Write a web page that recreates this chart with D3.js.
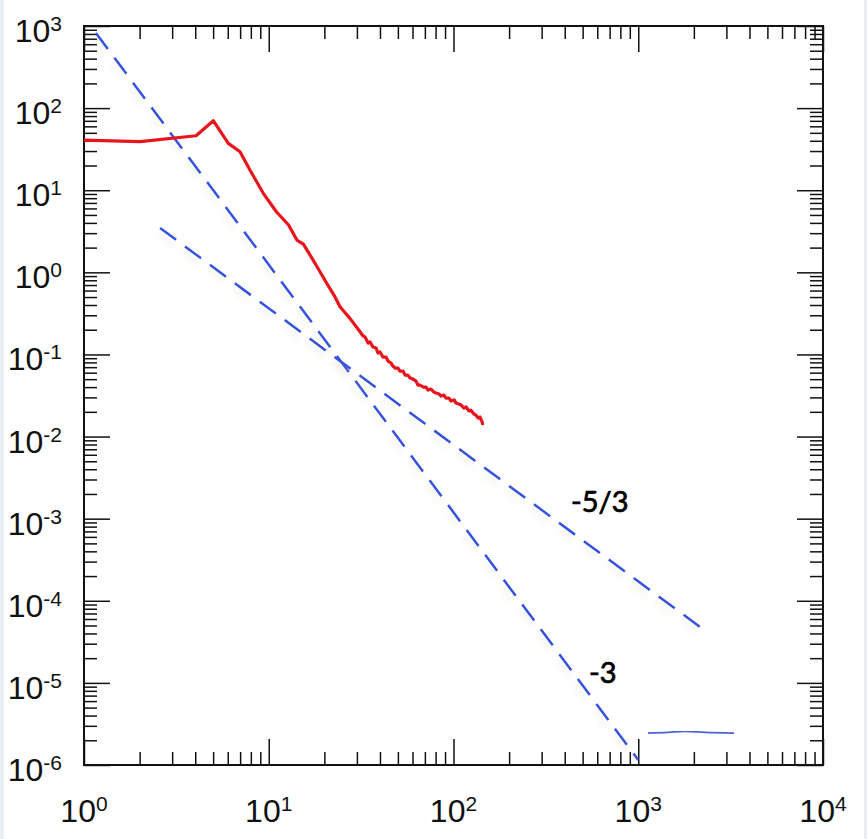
<!DOCTYPE html>
<meta charset='utf-8'>
<head>
    <title>Spectrum</title>
    <script src='https://cdn.jsdelivr.net/npm/d3@7/dist/d3.min.js'></script>
</head>

<style>
    body { margin: 0; background: #fff; }
    .frame { fill: none; stroke: #111; stroke-width: 2px; }
    .tick line { stroke: #111; stroke-width: 1.5px; }
    .domain { display: none; }
    .lbl { font-family: 'Liberation Sans', Arial, sans-serif; fill: #111; }
    .slope { font-family: Lato, sans-serif; font-size: 29px; fill: #000; stroke: #000; stroke-width: 0.7px; }
    .spec { fill: none; stroke: #e8161c; stroke-width: 3.2px; stroke-linejoin: round; }
    .fit { fill: none; stroke: #3652dc; stroke-width: 2.5px; stroke-dasharray: 20 11; }
    .tail { fill: none; stroke: #4a62dc; stroke-width: 1.8px; }
</style>

<svg></svg>

<script>
    var vWidth = 867;
    var vHeight = 839;

    var specK = [1, 2.01, 4.04, 5.01, 6.04, 6.99, 7.91, 9.34, 11.0, 12.8, 14.2, 15.4, 17.8, 20.6, 22.8, 24.3, 27.5,
        31.2, 32.4, 33.2, 34.5, 35.3, 36.7, 38.1, 39.0, 40.0, 41.5, 43.1, 44.2, 45.9, 47.0, 48.3, 50.1, 51.3, 53.3,
        54.7, 56.7, 58.2, 60.4, 62.7, 64.2, 65.9, 68.4, 71.0, 72.8, 75.5, 78.4, 80.4, 83.5, 85.6, 88.8, 91.1, 94.5,
        96.9, 101, 103, 107, 110, 114, 117, 121, 124, 129, 132, 136, 139, 143, 144];
    var specE = [40.8, 39.0, 46.1, 70.3, 37.2, 29.4, 17.6, 9.17, 5.47, 3.77, 2.47, 2.21, 1.29, 0.735, 0.505, 0.381, 0.275,
        0.189, 0.168, 0.163, 0.138, 0.142, 0.123, 0.120, 0.104, 0.107, 0.0930, 0.0930, 0.0831, 0.0786, 0.0722, 0.0683,
        0.0683, 0.0628, 0.0628, 0.0561, 0.0561, 0.0516, 0.0501, 0.0474, 0.0424, 0.0424, 0.0401, 0.0401, 0.0368, 0.0379,
        0.0348, 0.0339, 0.0330, 0.0311, 0.0320, 0.0294, 0.0294, 0.0271, 0.0279, 0.0256, 0.0249, 0.0242, 0.0222, 0.0229,
        0.0205, 0.0210, 0.0188, 0.0183, 0.0168, 0.0173, 0.0150, 0.0138];

    // reference slopes: endpoints [k, E]
    var slope3K = [1.16, 1000];
    var slope3E = [822, 1.15e-6];
    var slope53K = [2.58, 2158];
    var slope53E = [3.47, 4.8e-5];

    // small solid segment near the bottom right
    var tailK = [1130, 1450, 1780, 2300, 3300];
    var tailE = [2.45e-6, 2.5e-6, 2.57e-6, 2.5e-6, 2.45e-6];

    var xMajor = [1, 10, 100, 1000, 10000];
    var yMajor = [1e-6, 1e-5, 1e-4, 1e-3, 1e-2, 1e-1, 1, 10, 100, 1000];
    var xExp = ['0', '1', '2', '3', '4'];
    var yExp = ['-6', '-5', '-4', '-3', '-2', '-1', '0', '1', '2', '3'];
    var minorMult = [2, 3, 4, 5, 6, 7, 8, 9];

    var margin = {left: 84, top: 26, right: 44, bottom: 74};
    var w = vWidth - margin.left - margin.right;
    var h = vHeight - margin.top - margin.bottom;

    var svg = d3.select('svg').attr('width', vWidth).attr('height', vHeight);

    // faint bluish page edges
    svg.append('rect').attr('x', 0).attr('y', 0).attr('width', 4).attr('height', vHeight).attr('fill', '#e9edf6');
    svg.append('rect').attr('x', vWidth - 3).attr('y', 0).attr('width', 3).attr('height', vHeight).attr('fill', '#e9edf6');

    var defs = svg.append('defs');
    var f = defs.append('filter').attr('id', 'shadow').attr('x', '-10%').attr('y', '-10%')
        .attr('width', '130%').attr('height', '130%');
    f.append('feDropShadow').attr('dx', -2).attr('dy', 5).attr('stdDeviation', 3)
        .attr('flood-color', '#c9c7a2').attr('flood-opacity', 0.35);

    var g = svg.append('g').attr('transform', 'translate(' + margin.left + ',' + margin.top + ')');

    var x = d3.scaleLog().domain([1, 1e4]).range([0, w]);
    var y = d3.scaleLog().domain([1e-6, 1e3]).range([h, 0]);

    var xMinor = [], yMinor = [];
    xMajor.slice(0, -1).forEach(function (d) { minorMult.forEach(function (m) { xMinor.push(d * m); }); });
    yMajor.slice(0, -1).forEach(function (d) { minorMult.forEach(function (m) { yMinor.push(d * m); }); });

    // inward ticks on all four sides
    function ticks(axisFn, scale, values, size, tr) {
        g.append('g').attr('transform', tr)
            .call(axisFn(scale).tickValues(values).tickSize(size).tickFormat(''));
    }
    ticks(d3.axisTop, x, xMajor, 26, 'translate(0,' + h + ')');
    ticks(d3.axisTop, x, xMinor, 13, 'translate(0,' + h + ')');
    ticks(d3.axisBottom, x, xMajor, 26, 'translate(0,0)');
    ticks(d3.axisBottom, x, xMinor, 13, 'translate(0,0)');
    ticks(d3.axisRight, y, yMajor, 26, 'translate(0,0)');
    ticks(d3.axisRight, y, yMinor, 13, 'translate(0,0)');
    ticks(d3.axisLeft, y, yMajor, 26, 'translate(' + w + ',0)');
    ticks(d3.axisLeft, y, yMinor, 13, 'translate(' + w + ',0)');

    g.append('rect').attr('class', 'frame').attr('width', w).attr('height', h);

    // power-of-ten labels
    var xl = g.selectAll('.xl').data(xMajor).enter().append('text')
        .attr('class', 'lbl').attr('text-anchor', 'middle')
        .attr('x', function (d) { return x(d); }).attr('y', h + 57);
    xl.append('tspan').attr('font-size', 32).text('10');
    xl.append('tspan').attr('font-size', 21).attr('dy', -11).text(function (d, i) { return xExp[i]; });

    var yl = g.selectAll('.yl').data(yMajor).enter().append('text')
        .attr('class', 'lbl').attr('text-anchor', 'end')
        .attr('x', -22).attr('y', function (d) { return y(d) + 16; });
    yl.append('tspan').attr('font-size', 32).text('10');
    yl.append('tspan').attr('font-size', 21).attr('dy', -11).text(function (d, i) { return yExp[i]; });

    var line = d3.line()
        .x(function (d) { return x(d[0]); })
        .y(function (d) { return y(d[1]); });

    g.append('path').attr('class', 'fit').attr('filter', 'url(#shadow)')
        .attr('d', line(d3.zip(slope3K, slope3E)));
    g.append('path').attr('class', 'fit').attr('filter', 'url(#shadow)')
        .attr('d', line(d3.zip(slope53K, slope53E)));
    g.append('path').attr('class', 'tail').attr('filter', 'url(#shadow)')
        .attr('d', line.curve(d3.curveMonotoneX)(d3.zip(tailK, tailE)));
    line.curve(d3.curveLinear);

    g.append('path').attr('class', 'spec').attr('d', line(d3.zip(specK, specE)));

    g.append('text').attr('class', 'slope').attr('x', 571 - margin.left).attr('y', 512 - margin.top).text('-5/3');
    g.append('text').attr('class', 'slope').attr('x', 589 - margin.left).attr('y', 683 - margin.top).text('-3');
</script>
